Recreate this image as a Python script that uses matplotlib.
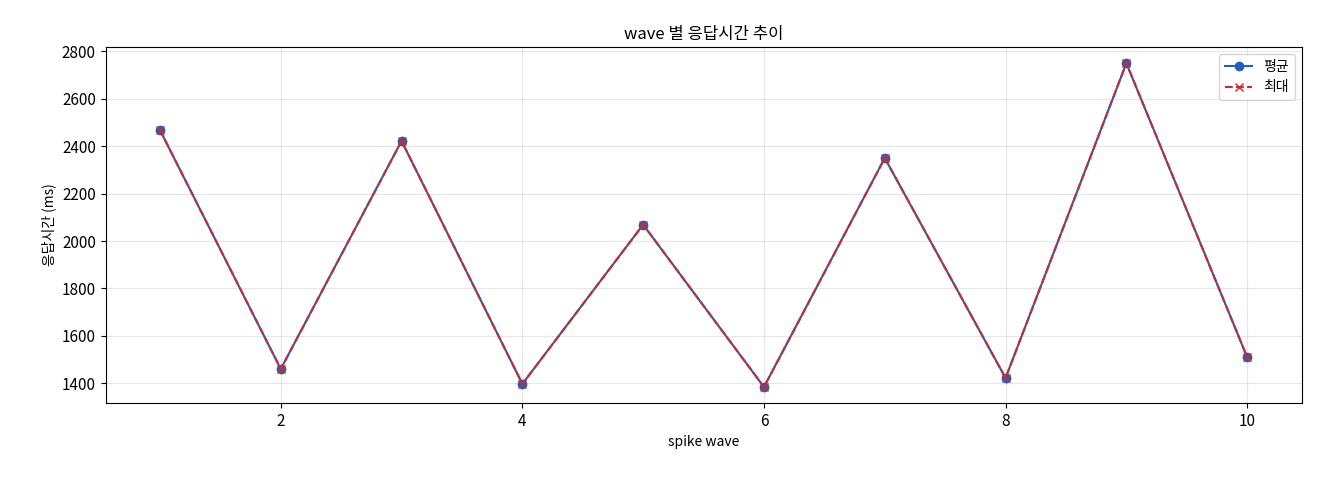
import matplotlib
matplotlib.use("Agg")
import matplotlib.pyplot as plt

plt.rcParams['font.family'] = ['Noto Sans CJK KR', 'DejaVu Sans']
plt.rcParams['axes.unicode_minus'] = False

waves = [1, 2, 3, 4, 5, 6, 7, 8, 9, 10]
avg_ms = [2468, 1460, 2422, 1397, 2069, 1384, 2350, 1422, 2750, 1510]
max_ms = [2468, 1460, 2422, 1397, 2069, 1384, 2350, 1422, 2750, 1510]

fig, ax = plt.subplots(figsize=(13.2, 4.8), dpi=100)
fig.subplots_adjust(left=0.08, right=0.986, top=0.902, bottom=0.16)
ax.plot(waves, avg_ms, '-o', color='#1f5fbf', label='평균', markersize=6)
ax.plot(waves, max_ms, '--x', color='#d62728', label='최대', markersize=6)
ax.set_title('wave 별 응답시간 추이', fontsize=12)
ax.set_xlabel('spike wave', fontsize=10)
ax.set_ylabel('응답시간 (ms)', fontsize=10)
ax.tick_params(labelsize=11)
ax.grid(True, alpha=0.3)
ax.legend(loc='upper right')
fig.savefig('out.png')
